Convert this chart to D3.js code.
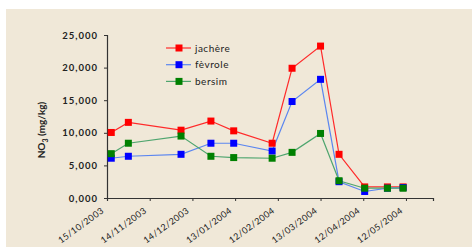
<!DOCTYPE html>
<html>
<head>
<meta charset="utf-8">
<script src="https://cdn.jsdelivr.net/npm/d3@7"></script>
<style>
  body { margin: 0; background: #fff; }
  svg { display: block; }
</style>
</head>
<body>
<div id="wrapper"></div>
<script>
// sampling dates and measured NO3 values (mg/kg)
const sampleDates = ["18/10/2003", "30/10/2003", "06/12/2003", "27/12/2003", "12/01/2004", "08/02/2004",
  "22/02/2004", "13/03/2004", "26/03/2004", "13/04/2004", "29/04/2004", "10/05/2004"]
const jachere = [10050, 11600, 10400, 11800, 10300, 8400, 19900, 23300, 6700, 1700, 1700, 1700]
const fevrole = [6100, 6400, 6700, 8400, 8400, 7200, 14800, 18200, 2500, 1000, 1500, 1600]
const bersim = [6800, 8400, 9500, 6400, 6200, 6100, 7000, 9900, 2650, 1500, 1500, 1500]
const seriesNames = ["jachère", "fèvrole", "bersim"]
const tickLabels = ["15/10/2003", "14/11/2003", "14/12/2003", "13/01/2004", "12/02/2004",
  "13/03/2004", "12/04/2004", "12/05/2004"]
const yTicks = [0, 5000, 10000, 15000, 20000, 25000]

const parseDate = d3.timeParse("%d/%m/%Y")

const width = 472
const height = 249
const margin = { top: 35, right: 39, bottom: 51, left: 107 }
const boundedWidth = width - margin.left - margin.right
const boundedHeight = height - margin.top - margin.bottom

const lineColors = ["#ff2a2a", "#5b86f0", "#4ea56e"]
const markerColors = ["#ff0000", "#0000ff", "#008000"]
const fontFamily = "Lato, 'Open Sans', sans-serif"

const wrapper = d3.select("#wrapper")
  .append("svg")
  .attr("width", width)
  .attr("height", height)

// beige plot background
wrapper.append("rect")
  .attr("x", 6)
  .attr("y", 9)
  .attr("width", width - 6)
  .attr("height", 238)
  .attr("fill", "#f0e8d8")

const bounds = wrapper.append("g")
  .attr("transform", `translate(${margin.left},${margin.top})`)

// scales
const xScale = d3.scaleTime()
  .domain([parseDate("15/10/2003"), parseDate("31/05/2004")])
  .range([0, boundedWidth])

const yScale = d3.scaleLinear()
  .domain([0, 25000])
  .range([boundedHeight, 0])

// axes
const yAxis = bounds.append("g")
  .call(d3.axisLeft(yScale)
    .tickValues(yTicks)
    .tickSize(3)
    .tickPadding(6)
    .tickFormat(d => d3.format(",.3f")(d / 1000).replace(".", ",")))

const xAxis = bounds.append("g")
  .attr("transform", `translate(0,${boundedHeight})`)
  .call(d3.axisBottom(xScale)
    .tickValues(tickLabels.map(parseDate))
    .tickSize(3)
    .tickFormat(d3.timeFormat("%d/%m/%Y")))

for (const axis of [xAxis, yAxis]) {
  axis.select(".domain").attr("stroke", "#333").attr("stroke-width", 1.2)
  axis.selectAll(".tick line").attr("stroke", "#333")
  axis.selectAll("text")
    .attr("fill", "#222")
    .style("font-family", fontFamily)
    .style("font-weight", "bold")
    .style("font-size", "9.5px")
}
yAxis.selectAll("text").style("letter-spacing", "1px")

xAxis.selectAll(".tick text")
  .attr("text-anchor", "end")
  .attr("dy", 0)
  .attr("y", 0)
  .attr("transform", "translate(-3,14) rotate(-36)")
  .style("font-weight", "normal")
  .style("font-size", "9px")
  .style("letter-spacing", "0.4px")

// y axis label
wrapper.append("text")
  .attr("transform", "translate(45,130) rotate(-90)")
  .attr("text-anchor", "middle")
  .style("font-family", fontFamily)
  .style("font-weight", "bold")
  .style("font-size", "10px")
  .attr("fill", "#222")
  .html('NO<tspan dy="3" font-size="7px">3</tspan><tspan dy="-3"> (mg/kg)</tspan>')

// series
const dates = sampleDates.map(parseDate)
const allSeries = [jachere, fevrole, bersim]

const lineGenerator = d3.line()
  .x((d, i) => xScale(dates[i]))
  .y(d => yScale(d))

allSeries.forEach((values, s) => {
  bounds.append("path")
    .attr("d", lineGenerator(values))
    .attr("fill", "none")
    .attr("stroke", lineColors[s])
    .attr("stroke-width", 1.2)
})

allSeries.forEach((values, s) => {
  bounds.selectAll(null)
    .data(values)
    .join("rect")
    .attr("x", (d, i) => xScale(dates[i]) - 3.5)
    .attr("y", d => yScale(d) - 3.5)
    .attr("width", 7)
    .attr("height", 7)
    .attr("fill", markerColors[s])
})

// legend
const legend = wrapper.append("g")
  .attr("transform", "translate(166,48)")

seriesNames.forEach((name, s) => {
  const row = legend.append("g").attr("transform", `translate(0,${s * 16.7})`)
  row.append("line")
    .attr("x1", 0).attr("x2", 25)
    .attr("stroke", lineColors[s])
    .attr("stroke-width", 1.2)
  row.append("rect")
    .attr("x", 9.5).attr("y", -3.5)
    .attr("width", 7).attr("height", 7)
    .attr("fill", markerColors[s])
  row.append("text")
    .attr("x", 29)
    .attr("y", 3.5)
    .style("font-family", fontFamily)
    .style("font-size", "10px")
    .style("letter-spacing", "0.5px")
    .attr("fill", "#222")
    .text(name)
})
</script>
</body>
</html>
